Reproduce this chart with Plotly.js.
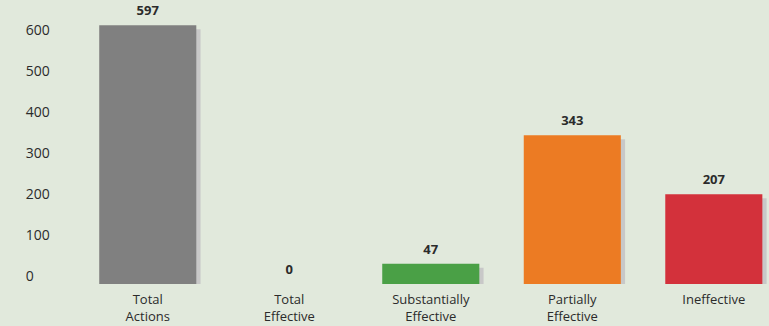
<!DOCTYPE html>
<html>
<head>
<meta charset="utf-8">
<script src="https://cdn.plot.ly/plotly-3.0.1.min.js"></script>
<style>html,body{margin:0;padding:0;background:#e1e9dc;}#chart{width:769px;height:326px;}</style>
</head>
<body>
<div id="chart"></div>
<script>
const categories = ["Total<br>Actions", "Total<br>Effective", "Substantially<br>Effective", "Partially<br>Effective", "Ineffective"];
const values = [597, 0, 47, 343, 207];
const barColors = ["#808080", "#808080", "#4aa046", "#ec7b23", "#d3313b"];
const tickValues = [0, 100, 200, 300, 400, 500, 600];
const tickLabels = ["0", "100", "200", "300", "400", "500", "600"];

const bg = "#e1e9dc";
const txt = "#2b2b2b";
const font = "'Open Sans', Lato, sans-serif";
const yMax = 616;
const pxPerUnit = 267 / yMax;
const shadowDown = 4 / pxPerUnit;
const idx = categories.map((c, i) => i);

const shadow = {
  type: "bar",
  x: idx,
  y: values.map(v => v > 0 ? v : null),
  base: values.map(v => v > 0 ? -shadowDown : null),
  offset: -0.343 + 0.03,
  width: 0.686,
  marker: {color: "#c8c8c8"},
  hoverinfo: "skip",
  showlegend: false,
  cliponaxis: false
};
const main = {
  type: "bar",
  x: idx,
  y: values,
  offset: -0.343,
  width: 0.686,
  marker: {color: barColors},
  cliponaxis: false,
  showlegend: false
};
const labels = {
  type: "scatter",
  mode: "markers+text",
  x: idx,
  y: values,
  text: values.map(String),
  textposition: "top center",
  textfont: {family: font, size: 13, color: txt, weight: 700},
  marker: {size: 9, color: "rgba(0,0,0,0)"},
  cliponaxis: false,
  showlegend: false,
  hoverinfo: "skip"
};
// invisible trace that carries the left tick-label axis
const axisCarrier = {
  type: "scatter", mode: "markers",
  x: tickValues.map(() => 0), y: tickValues,
  yaxis: "y2",
  marker: {size: 1, color: "rgba(0,0,0,0)"},
  showlegend: false, hoverinfo: "skip"
};

const marginL = 20;
const plotW = 769 - marginL;
const layout = {
  width: 769, height: 326,
  paper_bgcolor: bg, plot_bgcolor: bg,
  margin: {l: marginL, r: 0, t: 17, b: 42},
  barmode: "overlay",
  font: {family: font, color: txt},
  xaxis: {
    domain: [(77 - marginL) / plotW, 1],
    range: [-0.5, 4.39],
    tickvals: idx, ticktext: categories,
    showgrid: false, zeroline: false, showline: false,
    ticks: "outside", ticklen: 3, tickcolor: "rgba(0,0,0,0)",
    tickfont: {family: font, size: 13, color: txt}
  },
  yaxis: {
    range: [0, yMax],
    visible: false,
    showgrid: false, zeroline: false
  },
  yaxis2: {
    overlaying: "y", side: "right", anchor: "free", position: 0,
    range: [-19.5, 631.7],
    tickvals: tickValues, ticktext: tickLabels,
    showgrid: false, zeroline: false, showline: false,
    ticks: "outside", ticklen: 2, tickcolor: "rgba(0,0,0,0)",
    tickfont: {family: font, size: 14, color: txt}
  }
};

Plotly.newPlot("chart", [shadow, main, labels, axisCarrier], layout, {displayModeBar: false, staticPlot: true});
</script>
</body>
</html>
